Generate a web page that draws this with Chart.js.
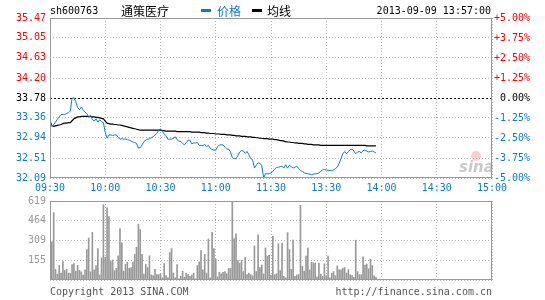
<!DOCTYPE html>
<html>
<head>
<meta charset="utf-8">
<script src="https://cdn.jsdelivr.net/npm/chart.js@4.4.0/dist/chart.umd.min.js"></script>
<style>
body { margin: 0; background: #fff; }
#wrap { position: relative; width: 545px; height: 300px; overflow: hidden; font-family: "DejaVu Sans Mono", monospace; font-size: 10px; }
canvas { position: absolute; left: 0; }
.t { position: absolute; white-space: nowrap; line-height: 12px; }
.cjk { font-family: "Noto Sans CJK SC", sans-serif; font-size: 12px; line-height: 14px; }
.dash { position: absolute; width: 10px; height: 3px; }
</style>
</head>
<body>
<div id="wrap">
  <canvas id="price" width="545" height="200" style="top:0"></canvas>
  <canvas id="vol" width="545" height="100" style="top:190px"></canvas>

  <div class="t" style="left:50px;top:5px">sh600763</div>
  <div class="t cjk" style="left:121px;top:4px">通策医疗</div>
  <div class="dash" style="left:201px;top:9px;background:#0b7bcc"></div>
  <div class="t cjk" style="left:217px;top:4px;color:#0b7bcc">价格</div>
  <div class="dash" style="left:252px;top:9px;background:#000"></div>
  <div class="t cjk" style="left:267px;top:4px">均线</div>
  <div class="t" style="right:54px;top:5px">2013-09-09 13:57:00</div>

  <div class="t" style="left:50px;top:286px;color:#555">Copyright 2013 SINA.COM</div>
  <div class="t" style="right:53px;top:286px;color:#555">http://finance.sina.com.cn</div>
</div>

<script>
// minutes since 09:30 (lunch break squeezed out), one value per minute up to 13:57
const prevClose = 33.78;

const prices = [
  33.29,33.18,33.22,33.27,33.33,33.38,33.43,33.43,33.43,33.45,
  33.47,33.50,33.78,33.78,33.70,33.58,33.53,33.59,33.53,33.48,
  33.45,33.37,33.41,33.33,33.29,33.34,33.27,33.32,33.28,33.26,
  33.05,32.93,33.00,33.00,32.99,33.00,33.00,32.95,32.91,32.92,
  32.91,32.91,32.90,32.89,32.87,32.85,32.84,32.82,32.72,32.73,
  32.79,32.86,32.89,32.91,32.92,32.94,32.96,33.00,33.03,33.10,
  33.13,33.08,33.02,32.98,32.91,32.91,32.91,32.93,32.96,32.90,
  32.87,32.86,32.82,32.79,32.84,32.89,32.89,32.81,32.83,32.83,
  32.84,32.78,32.78,32.77,32.80,32.75,32.78,32.72,32.69,32.68,
  32.68,32.75,32.79,32.79,32.79,32.74,32.70,32.70,32.64,32.52,
  32.50,32.50,32.56,32.64,32.67,32.66,32.61,32.65,32.58,32.50,
  32.48,32.30,32.36,32.41,32.40,32.35,32.09,32.18,32.18,32.18,
  32.20,32.23,32.28,32.31,32.32,32.33,32.34,32.30,32.37,32.30,
  32.36,32.33,32.30,32.32,32.34,32.29,32.25,32.23,32.20,32.19,
  32.18,32.17,32.16,32.17,32.18,32.18,32.20,32.23,32.26,32.27,
  32.26,32.25,32.25,32.25,32.26,32.29,32.32,32.40,32.50,32.60,
  32.65,32.60,32.65,32.69,32.70,32.66,32.60,32.64,32.65,32.62,
  32.67,32.68,32.66,32.64,32.65,32.66,32.64,32.62
];

const avgPrices = [
  33.29,33.20,33.18,33.19,33.20,33.21,33.22,33.24,33.25,33.25,
  33.26,33.26,33.30,33.34,33.36,33.38,33.38,33.39,33.39,33.39,
  33.39,33.39,33.39,33.38,33.38,33.37,33.37,33.36,33.35,33.34,
  33.29,33.25,33.24,33.23,33.23,33.22,33.22,33.21,33.21,33.20,
  33.19,33.18,33.17,33.16,33.15,33.14,33.13,33.12,33.11,33.10,
  33.10,33.10,33.10,33.10,33.10,33.10,33.10,33.10,33.10,33.10,
  33.10,33.09,33.09,33.08,33.08,33.08,33.08,33.08,33.08,33.07,
  33.07,33.07,33.07,33.07,33.07,33.07,33.07,33.06,33.06,33.06,
  33.06,33.06,33.05,33.05,33.05,33.04,33.04,33.03,33.03,33.03,
  33.02,33.02,33.02,33.01,33.01,33.01,33.00,33.00,33.00,32.99,
  32.99,32.98,32.98,32.98,32.97,32.97,32.97,32.96,32.96,32.96,
  32.95,32.95,32.94,32.94,32.93,32.93,32.92,32.92,32.92,32.91,
  32.91,32.91,32.90,32.90,32.89,32.88,32.88,32.87,32.86,32.85,
  32.85,32.84,32.84,32.83,32.83,32.82,32.82,32.82,32.81,32.81,
  32.80,32.80,32.80,32.79,32.79,32.79,32.79,32.78,32.78,32.78,
  32.78,32.78,32.78,32.78,32.78,32.78,32.78,32.78,32.78,32.78,
  32.78,32.78,32.78,32.78,32.78,32.78,32.78,32.78,32.78,32.78,
  32.78,32.78,32.77,32.77,32.77,32.77,32.77,32.77
];

const volumes = [
  152,300,528,84,47,113,54,145,74,84,
  54,54,120,128,69,115,76,64,39,79,
  238,329,64,373,79,113,246,39,172,590,
  179,565,496,145,157,74,91,189,403,292,
  69,123,140,91,98,140,201,256,437,396,
  201,47,123,98,189,39,34,84,42,42,
  49,17,128,34,17,216,246,54,17,120,
  10,29,69,22,54,42,29,39,54,10,
  113,143,231,79,201,54,322,17,373,246,
  165,25,61,49,61,66,49,91,91,619,
  324,361,152,133,152,66,177,42,54,42,
  34,268,66,354,98,118,47,251,187,194,
  39,342,42,49,283,74,290,29,17,371,
  238,84,312,29,39,42,585,108,69,187,
  251,79,140,135,133,25,133,47,29,128,
  32,187,17,54,66,34,111,79,79,91,
  98,54,81,42,34,20,312,66,42,42,
  182,117,125,88,164,113,32,20
];

const timeTicks = [0, 30, 60, 90, 120, 150, 180, 210, 240];
const timeLabels = ['09:30', '10:00', '10:30', '11:00', '11:30', '13:30', '14:00', '14:30', '15:00'];
const priceTicks = [32.09, 32.51, 32.94, 33.36, 33.78, 34.20, 34.63, 35.05, 35.47];
const pctTicks = [-5, -3.75, -2.5, -1.25, 0, 1.25, 2.5, 3.75, 5];
const volTicks = [0, 155, 309, 464, 619];

const BLUE = '#0b7bcc';
const RED = '#ff0000';
const GRID = '#b4b4b4';
const FONT = { family: 'DejaVu Sans Mono', size: 10 };

function sideColor(v, mid) {
  if (v > mid + 1e-9) return RED;
  if (v < mid - 1e-9) return BLUE;
  return '#000';
}

function pctLabel(v) {
  if (v > 0) return '+' + v.toFixed(2) + '%';
  if (v < 0) return v.toFixed(2) + '%';
  return ' ' + v.toFixed(2) + '%';
}

const frame = {
  id: 'frame',
  beforeDatasetsDraw(chart, args, opts) {
    const { ctx, chartArea: a } = chart;
    ctx.save();
    if (opts.watermark) {
      ctx.fillStyle = 'rgba(230,120,120,0.35)';
      ctx.beginPath();
      ctx.arc(a.right - 16, a.bottom - 22, 5, 0, Math.PI * 2);
      ctx.fill();
      ctx.font = 'italic bold 15px "DejaVu Sans"';
      ctx.fillStyle = 'rgba(165,165,165,0.6)';
      ctx.fillText('sina', a.right - 33, a.bottom - 6);
    }
    if (opts.refValue !== undefined) {
      const y = Math.round(chart.scales.y.getPixelForValue(opts.refValue)) + 0.5;
      ctx.strokeStyle = '#000';
      ctx.lineWidth = 1;
      ctx.setLineDash([2, 2]);
      ctx.beginPath();
      ctx.moveTo(a.left, y);
      ctx.lineTo(a.right, y);
      ctx.stroke();
    }
    ctx.restore();
  },
  afterDatasetsDraw(chart) {
    const { ctx, chartArea: a } = chart;
    ctx.save();
    ctx.strokeStyle = '#999';
    ctx.lineWidth = 1;
    ctx.strokeRect(a.left + 0.5, a.top + 0.5, a.width - 1, a.height - 1);
    ctx.restore();
  }
};

const timeAxis = (showLabels, height) => ({
  type: 'linear',
  min: 0,
  max: 240,
  offset: false,
  afterBuildTicks: s => { s.ticks = timeTicks.map(v => ({ value: v })); },
  afterFit: s => { s.height = height; },
  ticks: {
    display: showLabels,
    callback: (v, i) => timeLabels[i],
    color: BLUE,
    font: FONT,
    padding: 4,
    maxRotation: 0,
    autoSkip: false
  },
  grid: { color: GRID, drawTicks: false, offset: false },
  border: { display: false, dash: [1, 2] }
});

new Chart(document.getElementById('price'), {
  type: 'line',
  data: {
    datasets: [
      {
        label: '价格',
        data: prices.map((v, i) => ({ x: i, y: v })),
        borderColor: BLUE,
        borderWidth: 1,
        pointRadius: 0,
        tension: 0,
        yAxisID: 'y'
      },
      {
        label: '均线',
        data: avgPrices.map((v, i) => ({ x: i, y: v })),
        borderColor: '#000',
        borderWidth: 1.2,
        pointRadius: 0,
        tension: 0,
        yAxisID: 'y'
      }
    ]
  },
  options: {
    responsive: false,
    animation: false,
    events: [],
    layout: { padding: { top: 18, left: 0, right: 0, bottom: 0 } },
    plugins: {
      legend: { display: false },
      tooltip: { enabled: false },
      frame: { refValue: prevClose, watermark: true }
    },
    scales: {
      x: timeAxis(true, 22),
      y: {
        position: 'left',
        min: priceTicks[0],
        max: priceTicks[priceTicks.length - 1],
        afterBuildTicks: s => { s.ticks = priceTicks.map(v => ({ value: v })); },
        afterFit: s => { s.width = 50; },
        ticks: {
          callback: v => v.toFixed(2),
          color: ctx => sideColor(ctx.tick.value, prevClose),
          font: FONT,
          padding: 4
        },
        grid: {
          color: ctx => (ctx.tick && Math.abs(ctx.tick.value - prevClose) < 1e-6) ? 'rgba(0,0,0,0)' : GRID,
          drawTicks: false
        },
        border: { display: false, dash: [1, 2] }
      },
      y2: {
        position: 'right',
        min: pctTicks[0],
        max: pctTicks[pctTicks.length - 1],
        afterBuildTicks: s => { s.ticks = pctTicks.map(v => ({ value: v })); },
        afterFit: s => { s.width = 53; },
        ticks: {
          callback: v => pctLabel(v),
          color: ctx => sideColor(ctx.tick.value, 0),
          font: FONT,
          padding: 2
        },
        grid: { drawOnChartArea: false, drawTicks: false },
        border: { display: false }
      }
    }
  },
  plugins: [frame]
});

new Chart(document.getElementById('vol'), {
  type: 'bar',
  data: {
    datasets: [{
      label: 'volume',
      data: volumes.map((v, i) => ({ x: i, y: v })),
      backgroundColor: '#999',
      borderWidth: 0,
      barThickness: 1
    }]
  },
  options: {
    responsive: false,
    animation: false,
    events: [],
    layout: { padding: { top: 11, left: 0, right: 53, bottom: 0 } },
    plugins: {
      legend: { display: false },
      tooltip: { enabled: false },
      frame: {}
    },
    scales: {
      x: timeAxis(false, 5),
      y: {
        min: volTicks[0],
        max: volTicks[volTicks.length - 1],
        afterBuildTicks: s => { s.ticks = volTicks.map(v => ({ value: v })); },
        afterFit: s => { s.width = 50; },
        ticks: {
          callback: v => v === 0 ? '' : String(v),
          color: '#999',
          font: FONT,
          padding: 4
        },
        grid: { color: GRID, drawTicks: false },
        border: { display: false, dash: [1, 2] }
      }
    }
  },
  plugins: [frame]
});
</script>
</body>
</html>
